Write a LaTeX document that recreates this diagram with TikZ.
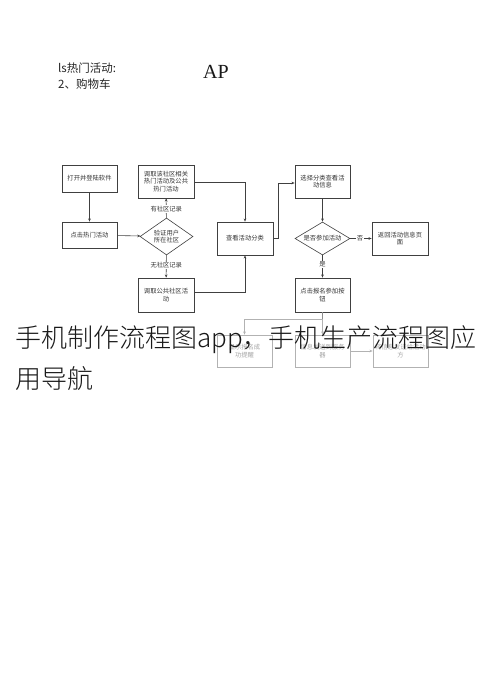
\documentclass[tikz,border=0pt]{standalone}
\usepackage{fontspec}
\usetikzlibrary{shapes.geometric,arrows.meta}
\newfontfamily\cjk{Noto Sans CJK SC}
\newfontfamily\cjklight{Noto Sans CJK SC Light}
\newfontfamily\serifap{Liberation Serif}
\begin{document}
\begin{tikzpicture}[x=1pt,y=-1pt,
  every node/.style={inner sep=0pt},
  box/.style={draw=black!75,line width=0.6pt,align=center,font=\cjk\fontsize{6.3}{7.6}\selectfont,text=black!80},
  fbox/.style={box,draw=black!30,text=black!35},
  dia/.style={box,diamond},
  lbl/.style={fill=white,inner sep=0.8pt,font=\cjk\fontsize{6.3}{7.6}\selectfont,text=black!80},
  conn/.style={draw=black!75,line width=0.6pt,-{Stealth[length=3.2pt,width=2.6pt]}},
  fconn/.style={conn,draw=black!30},
  big/.style={anchor=base west,font=\cjklight\fontsize{26}{30}\selectfont,text=black!90}]
\useasboundingbox[fill=white] (0,0) rectangle (490,697);
% top texts
\node[anchor=base west,font=\cjk\fontsize{11.5}{13}\selectfont,text=black!85] (t1) at (58,72) {ls热门活动:};
\node[anchor=base west,font=\cjk\fontsize{11.5}{13}\selectfont,text=black!85] (t2) at (58,88) {2、购物车};
\node[anchor=base west,font=\serifap\fontsize{20}{22}\selectfont,text=black!90] (ap) at (203,78) {AP};
% boxes
\node[box,minimum width=55,minimum height=27] (A) at (89.5,178.5) {打开并登陆软件};
\node[box,minimum width=55,minimum height=26] (B) at (89.5,235) {点击热门活动};
\node[dia,minimum width=53,minimum height=37,aspect=1.43] (V) at (166.5,236.5) {验证用户\\所在社区};
\node[box,minimum width=56,minimum height=33] (C) at (166,181.5) {调取该社区相关\\热门活动及公共\\热门活动};
\node[box,minimum width=56,minimum height=34] (D) at (166,295) {调取公共社区活\\动};
\node[box,minimum width=56,minimum height=33] (E) at (245,238.5) {查看活动分类};
\node[box,minimum width=55,minimum height=33] (F) at (322.5,181.5) {选择分类查看活\\动信息};
\node[dia,minimum width=55,minimum height=33,aspect=1.67] (G) at (322.5,238.5) {是否参加活动};
\node[box,minimum width=56,minimum height=33] (H) at (400,238.5) {返回活动信息页\\面};
\node[box,minimum width=55,minimum height=34] (I) at (322.5,295) {点击报名参加按\\钮};
\node[fbox,minimum width=55,minimum height=32] (J) at (244.5,351) {显示报名成\\功提醒};
\node[fbox,minimum width=55,minimum height=32] (K) at (322.5,351) {信息发送到服务\\器};
\node[fbox,minimum width=55,minimum height=32] (L) at (400.5,351) {将信息发送给活动\\方};
% helper coordinates
\coordinate (e1) at (245,182);
\coordinate (e2) at (245,292);
\coordinate (e3) at (278,238.5);
\coordinate (e4) at (278,183);
\coordinate (s1) at (322.5,319);
\coordinate (s2) at (244.5,319);
% connectors
\draw[conn] (A) -- (B);
\draw[conn] (B) -- (V);
\draw[conn] (V) -- node[lbl,pos=0.45] (l1) {有社区记录} (C);
\draw[conn] (V) -- node[lbl,pos=0.45] (l2) {无社区记录} (D);
\draw[conn] (C.east |- e1) -- (e1) -- (E.north);
\draw[conn] (D.east |- e2) -- (e2) -- (E.south);
\draw[conn] (E.east) -- (e3) -- (e4) -- (F.west |- e4);
\draw[conn] (F) -- (G);
\draw[conn] (G) -- node[lbl,pos=0.45] (l3) {否} (H);
\draw[conn] (G) -- node[lbl,pos=0.4] (l4) {是} (I);
\draw[draw=black!45,line width=0.6pt] (I.south) -- (s1);
\draw[fconn] (s1) -- (K.north);
\draw[fconn] (s1) -- (s2) -- (J.north);
\draw[fconn] (K) -- (L);
% overlay title
\node[big] (b1) at (15,347) {手机制作流程图app，手机生产流程图应};
\node[big] (b2) at (15,388) {用导航};
\end{tikzpicture}
\end{document}
